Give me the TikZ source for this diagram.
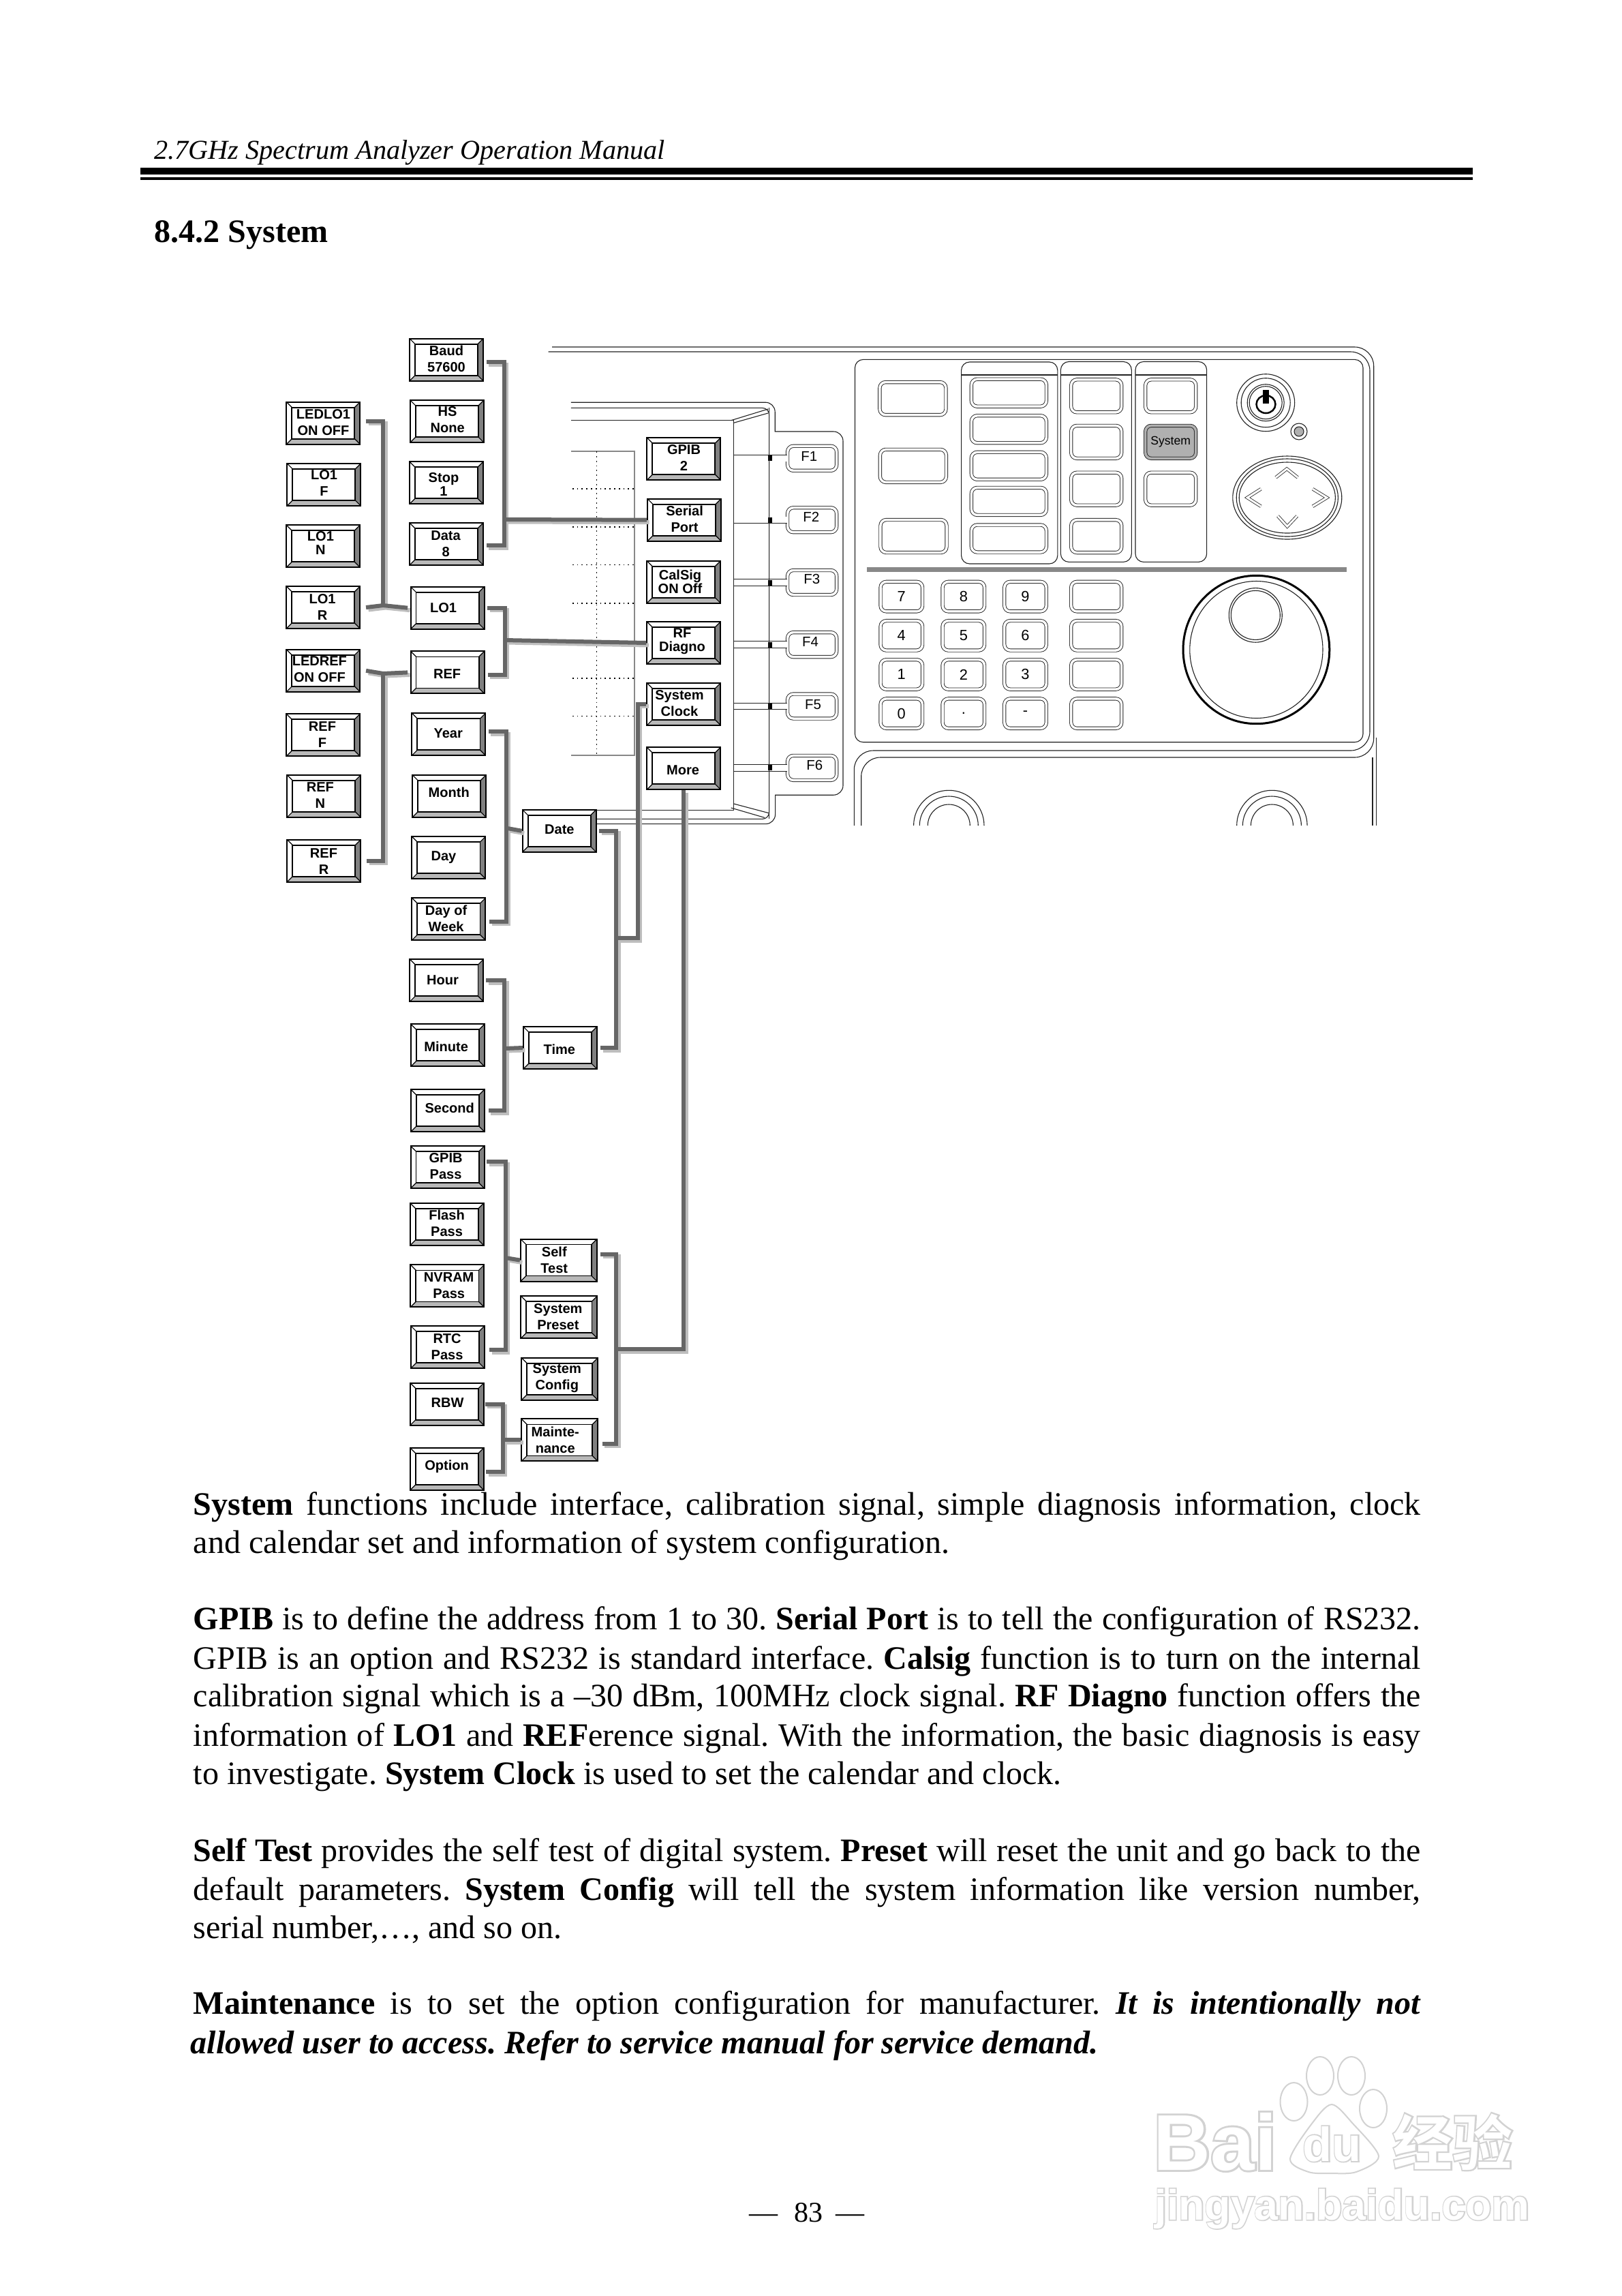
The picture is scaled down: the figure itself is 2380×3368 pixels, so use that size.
\documentclass[tikz,border=0pt]{standalone}
\usepackage{fontspec}
\setmainfont{Liberation Serif}
\newfontfamily\panelfont{Liberation Sans}
\newfontfamily\wmfill{Liberation Sans Bold}
\newfontfamily\wmline[FakeBold=5]{Liberation Sans Bold}
\newfontfamily\wmcjk{Noto Sans CJK SC Bold}
\newfontfamily\wmcjkline[FakeBold=5]{Noto Sans CJK SC Bold}
\newcommand{\tightbr}{\\[-1.14pt]}
\newcommand{\fillline}[1]{\hbox to 18cm{#1}}
\newcommand{\wmtext}[1]{\makebox[0pt][l]{\color{wmgray}\wmline #1}{\color{white}\wmfill #1}}
\newcommand{\wmcjktext}[1]{\makebox[0pt][l]{\color{wmgray}\wmcjkline #1}{\color{white}\wmcjk #1}}
\definecolor{bevlight}{HTML}{B8B8B8}
\definecolor{bevdark}{HTML}{808080}
\definecolor{wirecol}{HTML}{666666}
\definecolor{wireshadow}{HTML}{BEBEBE}
\definecolor{panelink}{HTML}{222222}
\definecolor{gridgray}{HTML}{888888}
\definecolor{sysgray}{HTML}{B0B0B0}
\definecolor{wmgray}{HTML}{D2D2D2}
\tikzset{
  softkey/.style={draw=black,line width=.02cm,fill=white,minimum width=1.08cm,minimum height=.62cm,inner sep=0pt,
    path picture={
      \fill[bevlight] (path picture bounding box.south west)--(path picture bounding box.south east)
        --([xshift=-.08cm,yshift=.08cm]path picture bounding box.south east)
        --([xshift=.08cm,yshift=.08cm]path picture bounding box.south west)--cycle;
      \fill[bevdark] (path picture bounding box.south east)--(path picture bounding box.north east)
        --([xshift=-.08cm,yshift=-.08cm]path picture bounding box.north east)
        --([xshift=-.08cm,yshift=.08cm]path picture bounding box.south east)--cycle;
      \draw[line width=.018cm] ([xshift=.08cm,yshift=.08cm]path picture bounding box.south west)
        rectangle ([xshift=-.08cm,yshift=-.08cm]path picture bounding box.north east);
      \draw[line width=.012cm] (path picture bounding box.south west)--++(.08cm,.08cm)
        (path picture bounding box.south east)--++(-.08cm,.08cm)
        (path picture bounding box.north west)--++(.08cm,-.08cm)
        (path picture bounding box.north east)--++(-.08cm,-.08cm);
    }},
  widekey/.style={softkey,minimum width=1.12cm},
  keytext/.style={align=center,inner sep=0pt,font=\panelfont\bfseries\fontsize{5.7}{6.83}\selectfont},
  wire/.style={draw=wirecol,line width=.06cm,
    preaction={draw=wireshadow,line width=.06cm,transform canvas={shift={(.035cm,-.035cm)}}}},
  panelline/.style={draw=panelink,line width=.011cm},
  panelkey/.style 2 args={draw=panelink,line width=.009cm,double,double distance=.035cm,rounded corners=.085cm,
    minimum width=#1,minimum height=#2,inner sep=0pt,font=\panelfont\fontsize{6.2}{7}\selectfont},
  fstub/.style={draw=panelink,line width=.009cm,double,double distance=.085cm},
  fsquare/.style={fill=black,minimum width=.06cm,minimum height=.08cm,inner sep=0pt},
  griddot/.style={draw=black,line width=.018cm,dash pattern=on .018cm off .05cm},
  bodytext/.style={anchor=base west,inner sep=0pt,font=\fontsize{13.66}{16}\selectfont}
}
\frenchspacing
\begin{document}
\begin{tikzpicture}[x=0.01cm,y=-0.01cm]
  \fill[white] (0,0) rectangle (2380,3368);
  \useasboundingbox (0,0) rectangle (2380,3368);
  \node[anchor=base west,inner sep=0pt,font=\itshape\fontsize{11.43}{14}\selectfont] (header) at (226,233) {2.7GHz Spectrum Analyzer Operation Manual};
  \fill[black] (206,246) rectangle (2161,256);
  \fill[black] (206,260) rectangle (2161,264);
  \node[anchor=base west,inner sep=0pt,font=\bfseries\fontsize{13.66}{16}\selectfont] (title) at (226,355.7) {8.4.2 System};

  \draw[panelline] (810,509)[rounded corners=.28cm]--(2015.7,509)--(2015.7,1111)--(1263.7,1111)--(1263.7,1211);
  \draw[panelline] (804.6,516)[rounded corners=.28cm]--(2010,516)--(2010,1101)--(1253.3,1101)--(1253.3,1211);
  \draw[panelline] (2014,1111)--(2014,1211) (2019.7,1082)--(2019.7,1211);
  \draw[panelline,rounded corners=.12cm] (1254.5,527.4) rectangle (2000,1088.7);
  \draw[panelline,rounded corners=.12cm] (1410.6,531) rectangle (1551.8,827);
  \draw[panelline,rounded corners=.12cm] (1556.4,530.5) rectangle (1660.3,824.4);
  \draw[panelline,rounded corners=.12cm] (1666,530.5) rectangle (1770.6,824.4);
  \draw[panelline] (1410.6,550)--(1551.8,550) (1556.4,550)--(1660.3,550) (1666,550)--(1770.6,550);
  \fill[gridgray] (1271.7,832) rectangle (1975.5,838.7);

  \draw[panelline] (837.8,590.2)[rounded corners=.14cm]--(1137.2,590.2)[sharp corners]--(1137.2,633)[rounded corners=.14cm]--(1237,633)--(1237,1166.2)[sharp corners]--(1137.6,1166.2)[rounded corners=.14cm]--(1137.6,1208.6)--(875.5,1208.6);
  \draw[panelline] (837.8,598.4)[rounded corners=.1cm]--(1128.6,598.4)--(1128.6,1201.4)--(875.5,1201.4);
  \draw[panelline] (837.8,616.7)--(1076.5,616.7)--(1076.5,1188.2)--(875.5,1188.2);
  \draw[panelline] (1072.7,616.7)--(1127,600) (1076.5,620.3)--(1127,606);
  \draw[panelline] (1076.5,1179)--(1128.6,1192.8) (1072.7,1185)--(1122,1199.4);
  \draw[draw=gridgray,line width=.02cm] (837.8,662.1)--(930.6,662.1)--(930.6,1107.6)--(837.8,1107.6);
  \draw[griddot] (875.5,662.1)--(875.5,1107.6);
  \foreach \y in {717.2,772.9,828.5,884.6,995.3,1050.5}
    \draw[griddot] (839.8,\y)--(930.6,\y);
  \coordinate (bezel) at (1076.5,616.7);

  \foreach \i/\y/\tx/\ty/\lab in {1/672.3/1187.3/669.8/F1,2/762.7/1190.2/758.6/F2,3/854.5/1191.3/849.4/F3,4/945.6/1189/941.7/F4,5/1036/1193/1033.6/F5,6/1126.4/1195.3/1122.9/F6}{
    \node[panelkey={.72cm}{.36cm}] (fk\i) at (1191.6,\y) {};
    \node[inner sep=0pt,font=\panelfont\fontsize{5.8}{7}\selectfont] (fl\i) at (\tx,\ty) {\lab};
    \draw[fstub] (fk\i.west)--(fk\i.west -| bezel);
    \node[fsquare] (fs\i) at (1130,\y) {};
  }
  \draw[panelline] (1128.6,598.4)--(1128.6,1201.4);

  \foreach \name/\cx/\cy in {lefta/1339.4/584.6,leftb/1339.9/683.4,leftc/1340.5/786.5}
    \node[panelkey={.97cm}{.48cm}] (\name) at (\cx,\cy) {};
  \foreach \name/\cy in {meda/576.2,medb/629.7,medc/683.3,medd/735.4,mede/790}
    \node[panelkey={1.10cm}{.40cm}] (\name) at (1480.4,\cy) {};
  \foreach \name/\cx/\cy in {funa/1608.7/580.8,funb/1608.7/648.4,func/1608.7/717.2,fund/1608.7/786.6,sysa/1717.7/580.8,sysc/1717.7/717.2}
    \node[panelkey={.74cm}{.48cm}] (\name) at (\cx,\cy) {};
  \node[panelkey={.74cm}{.48cm},double=sysgray,fill=sysgray,font=\panelfont\fontsize{5}{6}\selectfont] (sysb) at (1717.7,648.4) {System};
  \foreach \name/\cx/\cy/\lab in {nseven/1322.8/875.1/7,neight/1413.8/875.1/8,nnine/1504.5/875.1/9,nfour/1322.8/932.3/4,nfive/1413.8/932.3/5,nsix/1504.5/932.3/6,none/1322.8/989.4/1,ntwo/1413.8/989.4/2,nthree/1504.5/989.4/3,nzero/1322.8/1046.6/0,ndot/1413.8/1046.6/.,nminus/1504.5/1046.6/-}
    \node[panelkey={.615cm}{.435cm}] (\name) at (\cx,\cy) {\lab};
  \foreach \name/\cy in {unita/875.1,unitb/932.3,unitc/989.4,unitd/1046.6}
    \node[panelkey={.74cm}{.435cm}] (\name) at (1608.7,\cy) {};

  \draw[panelline] (1857.2,590.7) circle[x radius=42.5,y radius=42] circle[x radius=36,y radius=36] circle[x radius=27,y radius=27] circle[x radius=24,y radius=24];
  \draw[black,line width=.025cm] (1857.5,593) circle[x radius=14,y radius=13];
  \fill[black] (1853,572) rectangle (1862,592);
  \draw[panelline] (1906,633) circle[radius=12];
  \draw[panelline,fill=sysgray] (1906,633) circle[radius=7];
  \draw[panelline] (1888.8,730) circle[x radius=80,y radius=61] circle[x radius=74.6,y radius=57] circle[x radius=70.6,y radius=52];
  \foreach \a/\b/\c in {{1872,700.4}/{1888.2,687.7}/{1904.2,700.4},{1926.1,717.2}/{1947,730}/{1926.1,742.8},{1850.3,717.2}/{1830.2,730}/{1850.3,742.8},{1875,757}/{1888.8,772.3}/{1903.2,757}}
    \draw[draw=panelink,line width=.008cm,double,double distance=.03cm] (\a)--(\b)--(\c);
  \draw[black,line width=.03cm] (1843.4,953) circle[x radius=107.4,y radius=108.7];
  \draw[panelline] (1843.4,953) circle[x radius=97.6,y radius=100.5];
  \draw[panelline] (1842.3,902.4) circle[x radius=39,y radius=39.8] circle[x radius=36,y radius=36];
  \foreach \cx in {1392.3,1866.4}
    \foreach \r in {51.7,43,31}
      \draw[panelline] (\cx+\r,1211) arc[start angle=0,end angle=-180,radius=\r];

  \foreach \name/\cx/\cy/\tx/\ty/\txt in {
    ledlo/474.3/620.6/474.5/619.5/{LEDLO1\\ON OFF},
    lof/475.3/710.9/475.5/708.8/{LO1\\F},
    lon/474.3/801.2/470.4/796.6/{LO1\tightbr N},
    lor/474.3/891/473/890/{LO1\\R},
    ledref/474.3/983.8/468.9/981.8/{LEDREF\\ON OFF},
    reff/474.3/1078.2/473/1077.7/{REF\\F},
    refn/475.3/1167.8/469.9/1167/{REF\\N},
    refr/475.3/1262.6/475/1263.4/{REF\\R},
    baud/655.1/527.7/655/526.7/{Baud\\57600},
    hs/655.9/618/656.6/615.7/{HS\\None},
    stop/655/708.3/651/710.9/{Stop\tightbr 1},
    data/655/797.9/654.1/798.1/{Data\\8},
    lo/656.6/891.7/650.5/891.7/{LO1},
    ref/656.6/986.4/656.1/988.7/{REF},
    year/658.4/1077.2/657.7/1075.9/{Year},
    month/659.2/1167.8/658.7/1162.7/{Month},
    day/658.4/1258.2/651/1258/{Day},
    dayweek/658.4/1348.2/654.6/1347.6/{Day of\\Week},
    hour/655.4/1438.2/649.5/1437.9/{Hour},
    minute/656.9/1533.3/654.6/1535.5/{Minute},
    second/656.9/1629.1/659.7/1625.8/{Second},
    gpibp/656.6/1712.1/654.1/1710.6/{GPIB\\Pass},
    flashp/655.9/1795.8/655.6/1793.9/{Flash\\Pass},
    nvram/656.4/1886.4/658.7/1885.8/{NVRAM\\Pass},
    rtc/656.9/1976/656.1/1975.8/{RTC\\Pass},
    rbw/655.9/2059.7/656.6/2057.3/{RBW},
    option/655.9/2154.8/655.6/2151.2/{Option},
    date/820.7/1218.8/820.9/1216.7/{Date},
    time/821.9/1537/820.9/1539.7/{Time},
    gpib/1003.3/673.1/1003.5/671.8/{GPIB\\2},
    serial/1004.1/762.7/1004.6/760.9/{Serial\\Port},
    calsig/1003.3/853.7/998/853.7/{CalSig\tightbr ON Off},
    rfdiag/1003.3/943/1001/940.7/{RF\tightbr Diagno},
    sysclk/1003.3/1032.8/997/1031.3/{System\\Clock},
    more/1003.3/1127.2/1002/1129.5/{More}}{
    \node[softkey] (\name) at (\cx,\cy) {};
    \node[keytext] (\name t) at (\tx,\ty) {\txt};
  }
  \foreach \name/\cx/\cy/\tx/\ty/\txt in {
    selft/819.9/1848.5/813.3/1847.9/{Self\\Test},
    syspre/820.4/1932.1/818.9/1931.2/{System\\Preset},
    syscfg/821.2/2022.7/817.3/2022/{System\\Config},
    maint/821.2/2112.4/814.8/2112.4/{Mainte-\\nance}}{
    \node[widekey] (\name) at (\cx,\cy) {};
    \node[keytext] (\name t) at (\tx,\ty) {\txt};
  }

  \coordinate (busa) at (739.8,762);
  \coordinate (busb) at (740.8,939);
  \coordinate (busc) at (562.2,888);
  \coordinate (busd) at (562.2,988);
  \coordinate (buse) at (742.9,1214.7);
  \coordinate (busf) at (904,1376);
  \coordinate (busg) at (935.7,1032.8);
  \coordinate (bush) at (740.3,1538);
  \coordinate (busi) at (741.8,1845);
  \coordinate (busj) at (904,1979);
  \coordinate (busk) at (737.8,2112.4);
  \draw[wire] ([shift={(1pt,-1pt)}]baud.east)-|(busa)|-([shift={(1pt,-.7pt)}]data.east);
  \draw[wire] (busa)--(serial.west);
  \draw[wire] ([xshift=1pt]lo.east)-|(busb)|-([shift={(1.2pt,-.9pt)}]ref.east);
  \draw[wire] (busb)--(rfdiag.west);
  \draw[wire] ([shift={(2.2pt,.8pt)}]ledlo.east)-|(busc);
  \draw[wire] ([xshift=2.2pt]lor.east)--(busc)--([xshift=-1pt]lo.west);
  \draw[wire] ([xshift=2.2pt]ledref.east)--(busd)--([xshift=-1pt]ref.west);
  \draw[wire] (busd)|-([xshift=2.2pt]refr.east);
  \draw[wire] ([shift={(1pt,1.2pt)}]year.east)-|(buse)|-([shift={(1.4pt,-1pt)}]dayweek.east);
  \draw[wire] (buse)--(date.west);
  \draw[wire] ([xshift=1pt]date.east)-|(busf)|-([xshift=1.2pt]time.east);
  \draw[wire] (busf)-|(busg)--(sysclk.west);
  \draw[wire] ([xshift=.8pt]hour.east)-|(bush)|-([xshift=1.4pt]second.east);
  \draw[wire] (bush)--(time.west);
  \draw[wire] ([shift={(.8pt,2.2pt)}]gpibp.east)-|(busi)|-([shift={(1.8pt,-1.2pt)}]rtc.east);
  \draw[wire] (busi)--(selft.west);
  \draw[wire] ([shift={(1.2pt,2.5pt)}]selft.east)-|(busj)|-([shift={(1.6pt,-1.5pt)}]maint.east);
  \draw[wire] (more.south)|-(busj);
  \draw[wire] ([xshift=.2pt]rbw.east)-|(busk)|-([shift={(.6pt,-1.2pt)}]option.east);
  \draw[wire] (busk)--(maint.west);

  \node[bodytext] (b1) at (283,2222) {\fillline{\textbf{System} functions include interface, calibration signal, simple diagnosis information, clock}};
  \node[bodytext] (b2) at (283,2278) {and calendar set and information of system configuration.};
  \node[bodytext] (b3) at (283,2390) {\fillline{\textbf{GPIB} is to define the address from 1 to 30. \textbf{Serial Port} is to tell the configuration of RS232.}};
  \node[bodytext] (b4) at (283,2448) {\fillline{GPIB is an option and RS232 is standard interface. \textbf{Calsig} function is to turn on the internal}};
  \node[bodytext] (b5) at (283,2503) {\fillline{calibration signal which is a –30 dBm, 100MHz clock signal. \textbf{RF Diagno} function offers the}};
  \node[bodytext] (b6) at (283,2561) {\fillline{information of \textbf{LO1} and \textbf{REF}erence signal. With the information, the basic diagnosis is easy}};
  \node[bodytext] (b7) at (283,2617) {to investigate. \textbf{System Clock} is used to set the calendar and clock.};
  \node[bodytext] (b8) at (283,2730) {\fillline{\textbf{Self Test} provides the self test of digital system. \textbf{Preset} will reset the unit and go back to the}};
  \node[bodytext] (b9) at (283,2787) {\fillline{default parameters. \textbf{System Config} will tell the system information like version number,}};
  \node[bodytext] (b10) at (283,2843) {serial number,…, and so on.};
  \node[bodytext] (b11) at (283,2954) {\fillline{\textbf{Maintenance} is to set the option configuration for manufacturer. \textbf{\textit{It is intentionally not}}}};
  \node[bodytext,font=\bfseries\itshape\fontsize{13.66}{16}\selectfont] (b12) at (279,3012) {allowed user to access. Refer to service manual for service demand.};
  \node[anchor=base,inner sep=0pt,font=\fontsize{11.95}{14}\selectfont] (pageno) at (1184,3259) {—\hspace{.55em}83\hspace{.45em}—};

  \foreach \cx/\cy/\rx/\ry in {1898.5/3083/20/28,1937/3045/20/28,1983/3045/20/28,2015/3093/20/28}
    \draw[draw=wmgray,line width=.02cm] (\cx,\cy) circle[x radius=\rx,y radius=\ry];
  \draw[draw=wmgray,line width=.02cm] plot[smooth cycle] coordinates {(1954,3087) (1925,3115) (1893,3167) (1920,3186) (1953,3188) (1990,3186) (2023,3163) (1985,3115)};
  \node[anchor=base west,inner sep=0pt,font=\fontsize{33}{36}\selectfont] (wmbai) at (1692,3183) {\wmtext{Bai}};
  \node[anchor=base west,inner sep=0pt,font=\fontsize{20}{24}\selectfont] (wmdu) at (1911,3170) {\wmtext{du}};
  \node[anchor=base west,inner sep=0pt,font=\fontsize{25}{30}\selectfont] (wmcn) at (2043,3176) {\wmcjktext{经验}};
  \node[anchor=base west,inner sep=0pt,font=\fontsize{17.8}{20}\selectfont] (wmurl) at (1694,3256) {\wmtext{jingyan.baidu.com}};
\end{tikzpicture}
\end{document}
